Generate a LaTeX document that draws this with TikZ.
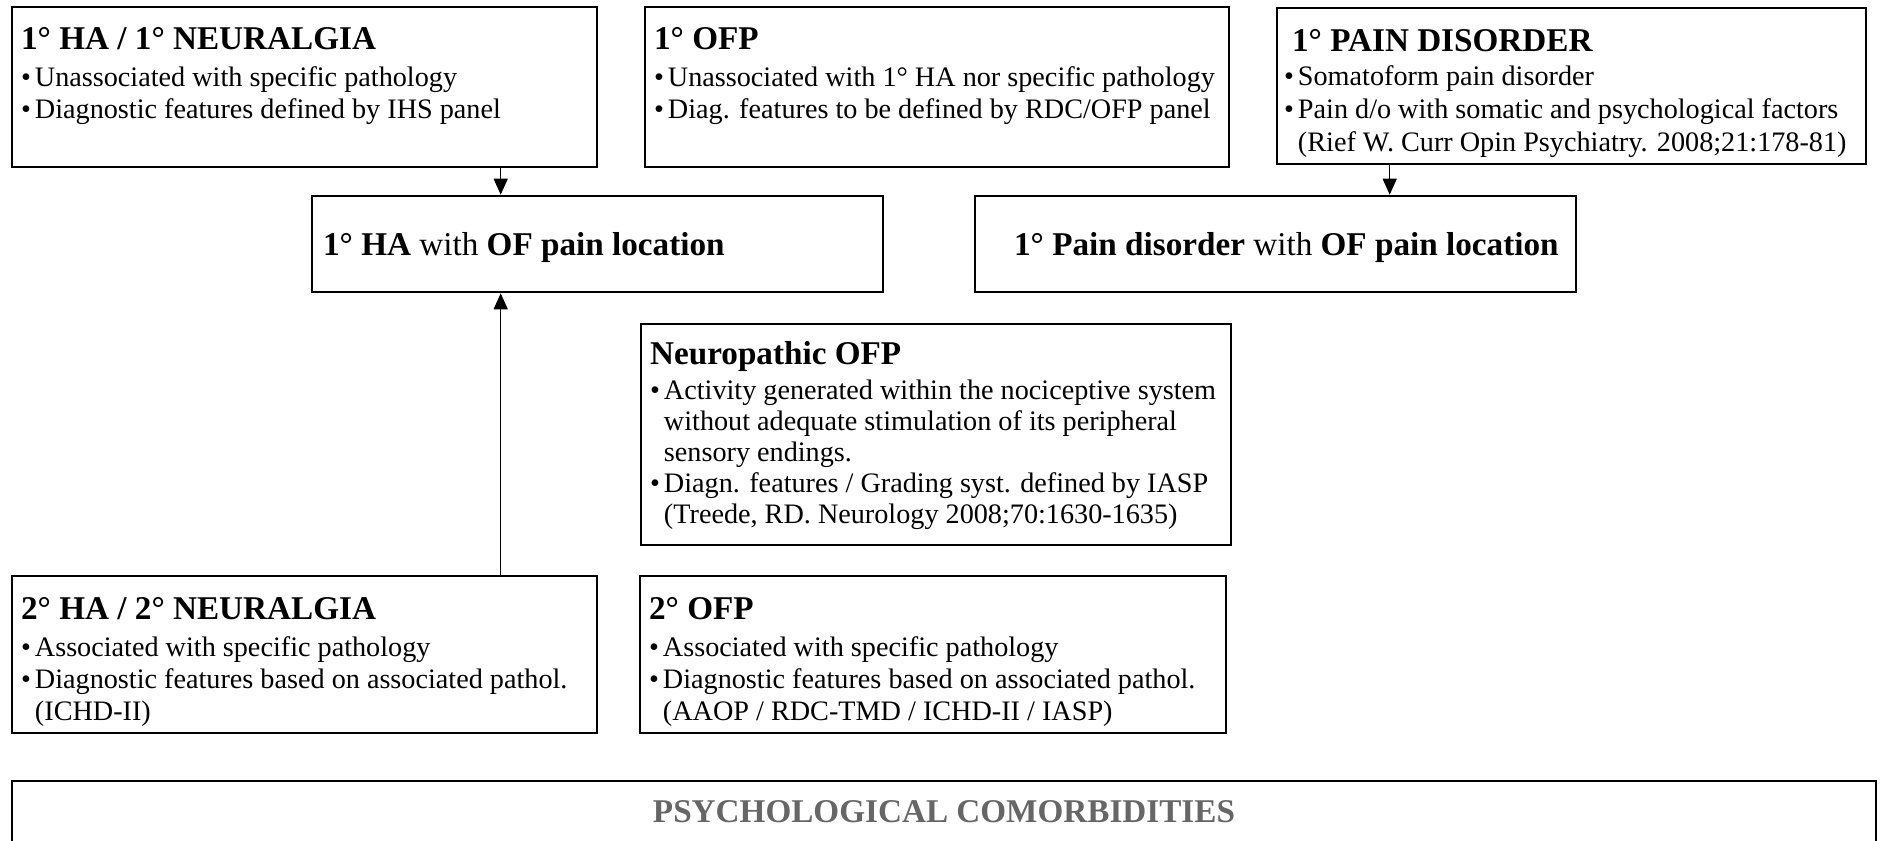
\documentclass[tikz,border=0pt]{standalone}
\usepackage{fontspec}
\setmainfont{Liberation Serif}
\usetikzlibrary{arrows.meta,fit}

\definecolor{psygray}{RGB}{102,102,102}
\newcommand{\boxhead}[1]{{\fontsize{16.6}{19}\selectfont\bfseries\rule{0pt}{12pt}#1}}
\newcommand{\bulletgap}{\hphantom{\textbullet\hspace{2pt}}}
\newcommand{\itm}{\textbullet\hspace{2pt}}

\begin{document}
\begin{tikzpicture}[
    x=0.5pt, y=-0.5pt,
    box_format/.style={draw, line width=1.3pt, inner sep=0pt},
    text_format/.style={align=left, anchor=north west, inner sep=0pt,
      font=\fontsize{14.1}{16}\selectfont},
    big_format/.style={anchor=west, inner sep=0pt, font=\fontsize{16.6}{19}\selectfont},
    arrow_format/.style={line width=0.7pt, -{Triangle[length=8pt,width=7pt]}},
    ]

    \useasboundingbox (0,0) rectangle (1883,840);
    \clip (0,0) rectangle (1883,840);

    % --- Top row ---
    \node[box_format, fit={(12,7) (597,167)}] (ha1) {};
    \node[text_format] (ha1-t) at ([xshift=5pt,yshift=-9.5pt]ha1.north west) {
      \boxhead{1° HA / 1° NEURALGIA}\\[2.5pt]
      \itm Unassociated with specific pathology\\
      \itm Diagnostic features defined by IHS panel
    };

    \node[box_format, fit={(645,7) (1229,167)}] (ofp1) {};
    \node[text_format] (ofp1-t) at ([xshift=5pt,yshift=-9.5pt]ofp1.north west) {
      \boxhead{1° OFP}\\[2.5pt]
      \itm Unassociated with 1° HA nor specific pathology\\
      \itm Diag. features to be defined by RDC/OFP panel
    };

    \node[box_format, fit={(1277,8) (1866,164)}] (pd1) {};
    \node[text_format, font=\fontsize{14.1}{16.3}\selectfont] (pd1-t) at ([xshift=4pt,yshift=-10.3pt]pd1.north west) {
      \hspace*{4pt}\boxhead{1° PAIN DISORDER}\\[0.8pt]
      \itm Somatoform pain disorder\\
      \itm Pain d/o with somatic and psychological factors\\
      \bulletgap(Rief W. Curr Opin Psychiatry. 2008;21:178-81)
    };

    % --- Second row ---
    \node[box_format, fit={(312,196) (883,292)}] (hadd) {};
    \node[big_format] (hadd-t) at ([xshift=6pt,yshift=-1.8pt]hadd.west) {
      \textbf{1° HA} with \textbf{OF pain location}
    };

    \node[box_format, fit={(975,196) (1576,292)}] (pdod) {};
    \node[big_format] (pdod-t) at ([xshift=20pt,yshift=-1.8pt]pdod.west) {
      \textbf{1° Pain disorder} with \textbf{OF pain location}
    };

    % --- Neuropathic ---
    \node[box_format, fit={(641,324) (1231,545)}] (nofp) {};
    \node[text_format, font=\fontsize{14.1}{15.5}\selectfont] (nofp-t) at ([xshift=5pt,yshift=-8.5pt]nofp.north west) {
      \boxhead{Neuropathic OFP}\\[2pt]
      \itm Activity generated within the nociceptive system\\
      \bulletgap without adequate stimulation of its peripheral\\
      \bulletgap sensory endings.\\
      \itm Diagn. features / Grading syst. defined by IASP\\
      \bulletgap (Treede, RD. Neurology 2008;70:1630-1635)
    };

    % --- Secondary row ---
    \node[box_format, fit={(12,576) (597,733)}] (ha2) {};
    \node[text_format] (ha2-t) at ([xshift=5pt,yshift=-10pt]ha2.north west) {
      \boxhead{2° HA / 2° NEURALGIA}\\[2.5pt]
      \itm Associated with specific pathology\\
      \itm Diagnostic features based on associated pathol.\\
      \bulletgap (ICHD-II)
    };

    \node[box_format, fit={(640,576) (1226,733)}] (ofp2) {};
    \node[text_format] (ofp2-t) at ([xshift=5pt,yshift=-10pt]ofp2.north west) {
      \boxhead{2° OFP}\\[2.5pt]
      \itm Associated with specific pathology\\
      \itm Diagnostic features based on associated pathol.\\
      \bulletgap (AAOP / RDC-TMD / ICHD-II / IASP)
    };

    % --- Comorbidities (runs off the bottom) ---
    \node[box_format, fit={(12,781) (1876,900)}] (psy) {};
    \node[inner sep=0pt, text=psygray, font=\fontsize{16.6}{19}\selectfont\bfseries]
      (psy-t) at ([yshift=-16pt]psy.north) {PSYCHOLOGICAL COMORBIDITIES};

    % --- Arrows ---
    \draw[arrow_format] ([xshift=95pt]hadd.north west |- ha1.south) -- ([xshift=95pt]hadd.north west);
    \draw[arrow_format] ([xshift=208pt]pdod.north west |- pd1.south) -- ([xshift=208pt]pdod.north west);
    \draw[arrow_format] ([xshift=95pt]hadd.south west |- ha2.north) -- ([xshift=95pt]hadd.south west);

  \end{tikzpicture}
\end{document}
